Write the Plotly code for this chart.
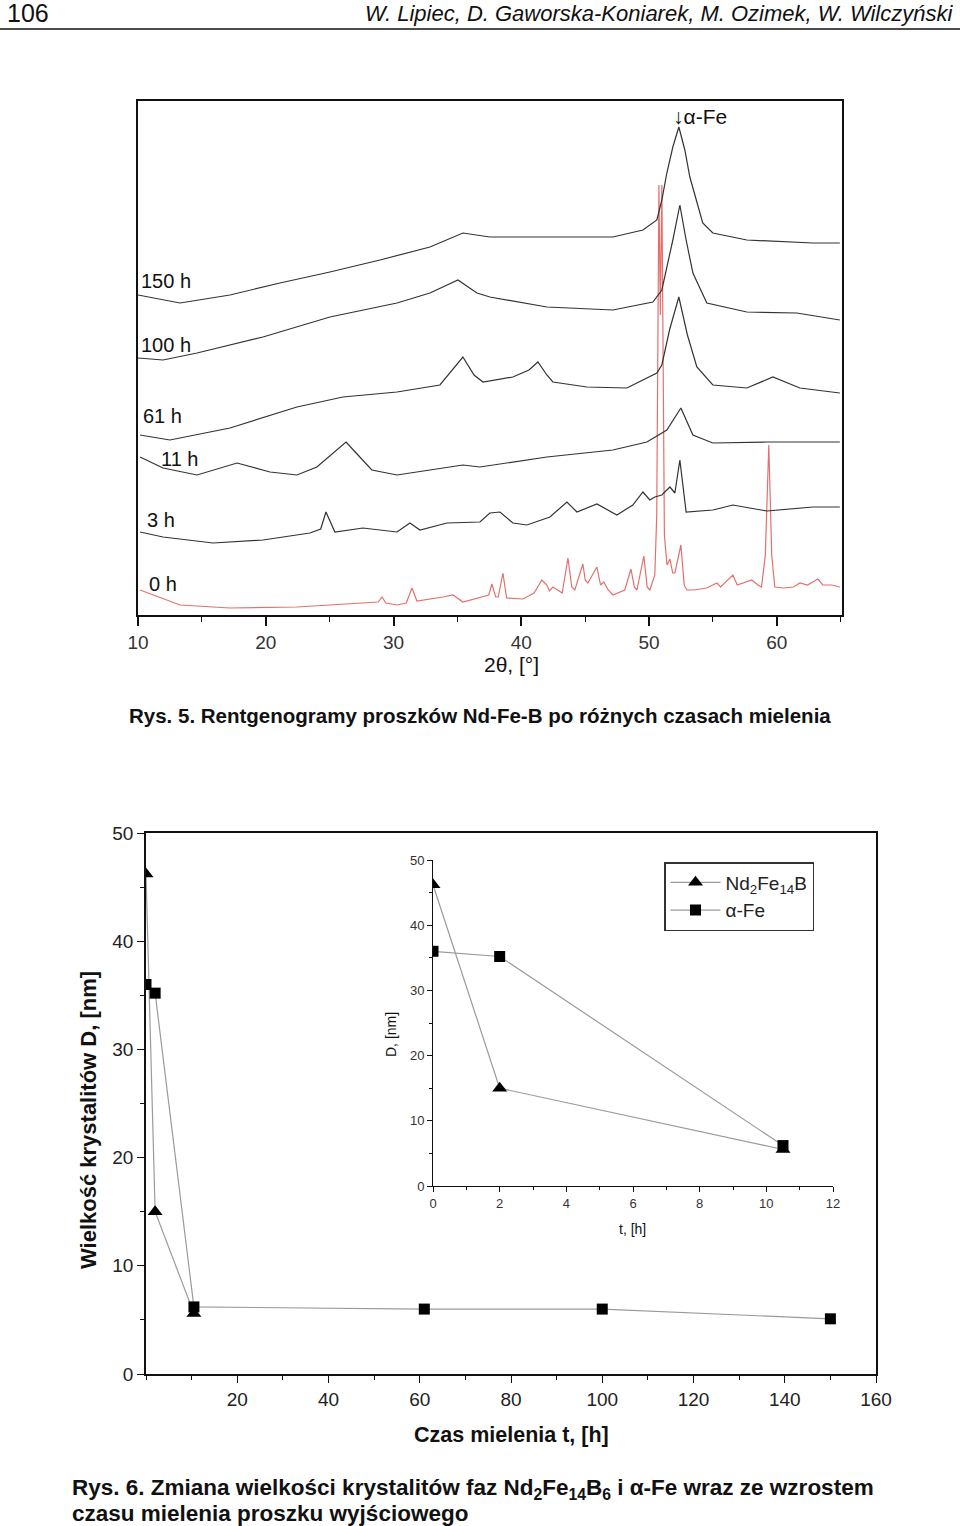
import plotly.graph_objects as go

# ---------------- Rys. 5 : XRD patterns (2theta [deg], intensity [a.u.]) ----------------
tt_0h = [10.16, 13.29, 17.2, 22.44, 25.02, 28.8, 29.1, 29.4, 30.27, 31.0, 31.44, 31.83, 33.87, 34.65,
         35.43, 37.0, 37.45, 37.7, 38.0, 38.2, 38.56, 38.85, 40.13, 41.0, 41.61, 42.0, 42.2, 42.47, 43.2,
         43.65, 43.95, 44.19, 44.82, 45.0, 45.21, 45.92, 46.2, 46.46, 46.8, 47.17, 48.1, 48.58, 48.85,
         49.05, 49.59, 49.85, 50.06, 50.45, 50.6, 50.77, 50.88, 51.0, 51.2, 51.4, 51.63, 51.85, 52.02,
         52.49, 52.75, 52.96, 53.5, 54.5, 55.31, 55.6, 56.56, 56.9, 57.34, 58.04, 58.51, 58.8, 59.1,
         59.37, 59.6, 59.84, 60.5, 61.3, 61.8, 62.4, 63.21, 63.6, 64.3, 64.93]
i_0h = [25, 10, 7, 8, 10, 13, 18, 12, 10, 12, 27, 14, 18, 20,
        13, 18, 20, 31, 18, 18, 42, 17, 16, 22, 35, 30, 24, 28, 22,
        57, 28, 25, 51, 35, 32, 48, 30, 33, 25, 20, 25, 46, 28,
        25, 59, 28, 25, 40, 100, 430, 300, 430, 80, 50, 56, 42, 42,
        70, 30, 25, 25, 27, 32, 28, 40, 30, 32, 35, 30, 28, 60,
        170, 60, 28, 27, 28, 32, 30, 36, 30, 30, 28]

tt_3h = [10.16, 11.96, 15.87, 19.78, 23.46, 24.3, 24.71, 25.41, 27.6, 30.27, 31.28, 32.07, 34.18,
         36.76, 37.54, 38.33, 39.34, 40.44, 42.24, 43.57, 44.35, 45.92, 47.48, 48.73, 49.52, 50.06,
         50.45, 51.0, 51.63, 52.02, 52.41, 52.9, 54.99, 56.56, 59.22, 62.82, 64.93]
i_3h = [83, 78, 72, 75, 82, 86, 103, 83, 87, 83, 92, 85, 92,
        93, 102, 103, 92, 90, 98, 113, 103, 111, 100, 110, 123, 115,
        118, 120, 128, 122, 155, 103, 105, 110, 104, 108, 108]

tt_11h = [10.16, 11.96, 14.62, 17.75, 20.33, 22.44, 24.0, 25.3, 26.28, 27.0, 27.6, 28.3, 30.27,
          32.85, 35.43, 36.76, 42.0, 47.17, 49.83, 51.39, 52.49, 53.43, 54.99, 59.22, 64.93]
i_11h = [158, 147, 140, 152, 143, 140, 148, 162, 173, 163, 155, 145, 140,
         145, 150, 148, 158, 165, 173, 185, 207, 180, 172, 173, 173]

tt_61h = [10.16, 12.5, 17.2, 22.44, 26.04, 30.27, 33.63, 34.6, 35.43, 36.3, 37.0, 39.34, 40.6,
          41.3, 42.0, 42.47, 45.13, 48.26, 50.61, 51.0, 51.6, 52.33, 53.0, 53.74, 54.99, 57.65,
          59.69, 61.8, 64.93]
i_61h = [180, 175, 187, 208, 218, 223, 230, 245, 258, 240, 233, 238, 245,
         253, 240, 233, 228, 227, 242, 250, 285, 318, 280, 248, 230, 227,
         238, 227, 222]

tt_100h = [10.0, 11.96, 14.62, 19.78, 25.02, 30.27, 32.85, 35.04, 36.53, 37.54, 42.0, 47.17,
           50.3, 51.0, 51.86, 52.41, 52.9, 53.43, 54.52, 57.65, 61.56, 64.93]
i_100h = [257, 255, 262, 278, 298, 312, 322, 335, 322, 318, 308, 305,
          313, 325, 375, 410, 375, 342, 312, 303, 302, 295]

tt_150h = [10.0, 13.29, 17.2, 21.11, 25.02, 28.94, 32.85, 35.43, 37.54, 42.0, 47.17, 49.52,
           50.61, 51.0, 51.39, 51.86, 52.33, 52.8, 53.19, 53.74, 54.2, 54.99, 57.65, 62.82, 64.93]
i_150h = [320, 312, 320, 332, 343, 355, 368, 382, 378, 378, 378, 385,
          395, 415, 442, 468, 488, 465, 438, 413, 392, 382, 375, 372, 372]

xrd_names = ["0 h", "3 h", "11 h", "61 h", "100 h", "150 h"]
xrd_ticks = [10, 20, 30, 40, 50, 60]

# ---------------- Rys. 6 : crystallite size D [nm] vs milling time t [h] ----------------
t_nd = [0, 2, 10.5]
d_nd = [46.2, 15.0, 5.6]
t_fe = [0, 2, 10.5, 61, 100, 150]
d_fe = [36.0, 35.2, 6.2, 6.0, 6.0, 5.1]
t_fe_inset = [0, 2, 10.5]
d_fe_inset = [36.0, 35.2, 6.2]
main_xticks = [20, 40, 60, 80, 100, 120, 140, 160]

FONT = "Liberation Sans, Arial, sans-serif"
W, H = 960, 1526


def px(x):
    return x / W


def py(y):
    return 1 - y / H


fig = go.Figure()

xrd = [(tt_0h, i_0h, "#e4706e"), (tt_3h, i_3h, "#333333"), (tt_11h, i_11h, "#333333"),
       (tt_61h, i_61h, "#333333"), (tt_100h, i_100h, "#333333"), (tt_150h, i_150h, "#333333")]
for (xs, ys, col), nm in zip(xrd, xrd_names):
    fig.add_trace(go.Scatter(x=xs, y=ys, mode="lines", name=nm, line=dict(color=col, width=1.2),
                             xaxis="x", yaxis="y", showlegend=False, hoverinfo="skip"))

LINE = "#9a9a9a"
# main plot
fig.add_trace(go.Scatter(x=t_nd, y=d_nd, mode="lines+markers", xaxis="x2", yaxis="y2",
                         line=dict(color=LINE, width=1.2),
                         marker=dict(symbol="triangle-up", size=13, color="black"), showlegend=False))
fig.add_trace(go.Scatter(x=t_fe, y=d_fe, mode="lines+markers", xaxis="x2", yaxis="y2",
                         line=dict(color=LINE, width=1.2),
                         marker=dict(symbol="square", size=11, color="black"), showlegend=False))
# inset
fig.add_trace(go.Scatter(x=t_nd, y=d_nd, mode="lines+markers", xaxis="x3", yaxis="y3",
                         name="Nd<sub>2</sub>Fe<sub>14</sub>B", line=dict(color=LINE, width=1.2),
                         marker=dict(symbol="triangle-up", size=13, color="black")))
fig.add_trace(go.Scatter(x=t_fe_inset, y=d_fe_inset, mode="lines+markers", xaxis="x3", yaxis="y3",
                         name="α-Fe", line=dict(color=LINE, width=1.2),
                         marker=dict(symbol="square", size=11, color="black")))

axcol = "#111111"
fig.update_layout(
    width=W, height=H, margin=dict(l=0, r=0, t=0, b=0, autoexpand=False),
    paper_bgcolor="white", plot_bgcolor="white",
    font=dict(family=FONT, color="#222"),
    xaxis=dict(domain=[px(138), px(842)], range=[10, 65.1], anchor="y", automargin=False,
               showline=True, linecolor=axcol, linewidth=2, mirror=True,
               ticks="outside", ticklen=9, tickwidth=1.5, tickcolor=axcol,
               tickmode="array", tickvals=xrd_ticks,
               minor=dict(tickmode="linear", tick0=10, dtick=5, ticks="outside", ticklen=5,
                          tickwidth=1.2, tickcolor=axcol),
               tickfont=dict(size=19, family=FONT, color="#333"),
               showgrid=False, zeroline=False),
    yaxis=dict(domain=[py(615), py(101)], range=[0, 514], anchor="x", automargin=False,
               showline=True, linecolor=axcol, linewidth=2, mirror=True,
               showticklabels=False, ticks="", showgrid=False, zeroline=False),
    xaxis2=dict(domain=[px(146), px(876)], range=[0, 160], anchor="y2", automargin=False,
                showline=True, linecolor=axcol, linewidth=1.6, mirror=True,
                ticks="outside", ticklen=7, tickwidth=1.2, tickcolor=axcol,
                tickmode="array", tickvals=main_xticks,
                minor=dict(tickmode="linear", tick0=0, dtick=10, ticks="outside", ticklen=4,
                           tickwidth=1, tickcolor=axcol),
                tickfont=dict(size=19, family=FONT, color="#222"),
                showgrid=False, zeroline=False),
    yaxis2=dict(domain=[py(1374), py(833)], range=[0, 50], anchor="x2", automargin=False,
                showline=True, linecolor=axcol, linewidth=1.6, mirror=True,
                ticks="outside", ticklen=7, tickwidth=1.2, tickcolor=axcol, dtick=10,
                minor=dict(dtick=5, ticks="outside", ticklen=4, tickwidth=1, tickcolor=axcol),
                tickfont=dict(size=19, family=FONT, color="#222"),
                showgrid=False, zeroline=False),
    xaxis3=dict(domain=[px(433), px(833)], range=[0, 12], anchor="y3", automargin=False,
                showline=True, linecolor=axcol, linewidth=1, mirror=False,
                ticks="outside", ticklen=5, tickwidth=1, tickcolor=axcol, dtick=2,
                minor=dict(dtick=1, ticks="outside", ticklen=3, tickwidth=1, tickcolor=axcol),
                tickfont=dict(size=13, family=FONT, color="#333"),
                showgrid=False, zeroline=False),
    yaxis3=dict(domain=[py(1186), py(860)], range=[0, 50], anchor="x3", automargin=False,
                showline=True, linecolor=axcol, linewidth=1, mirror=False,
                ticks="outside", ticklen=5, tickwidth=1, tickcolor=axcol, dtick=10,
                minor=dict(dtick=5, ticks="outside", ticklen=3, tickwidth=1, tickcolor=axcol),
                tickfont=dict(size=13, family=FONT, color="#333"),
                showgrid=False, zeroline=False),
    legend=dict(x=px(664), y=py(862), xanchor="left", yanchor="top", itemwidth=50,
                bordercolor="#333", borderwidth=1.5, bgcolor="white",
                font=dict(size=19, family=FONT, color="#222"), tracegroupgap=0),
)

ann = []


def add(text, x, y, size, xanchor="left", bold=False, italic=False, angle=0, color="#111"):
    t = text
    if bold:
        t = "<b>" + t + "</b>"
    if italic:
        t = "<i>" + t + "</i>"
    ann.append(dict(text=t, x=px(x), y=py(y), xref="paper", yref="paper", showarrow=False,
                    xanchor=xanchor, yanchor="middle", textangle=angle,
                    font=dict(size=size, family=FONT, color=color)))


# page header
add("106", 5, 13, 25)
add("W. Lipiec, D. Gaworska-Koniarek, M. Ozimek, W. Wilczyński", 955, 13, 22, xanchor="right", italic=True)

# XRD labels
add("150 h", 139, 281, 20)
add("100 h", 139, 345, 20)
add("61 h", 141, 416, 20)
add("11 h", 159, 459, 20)
add("3 h", 145, 520, 20)
add("0 h", 147, 584, 20)
add("↓α-Fe", 671, 117, 21)
add("2θ, [°]", 511, 665, 21, xanchor="center")
add("Rys. 5. Rentgenogramy proszków Nd-Fe-B po różnych czasach mielenia", 480, 715, 20.5,
    xanchor="center", bold=True)

# Rys. 6 labels
add("Wielkość krystalitów D, [nm]", 88, 1120, 22, xanchor="center", bold=True, angle=-90)
add("Czas mielenia t, [h]", 511, 1435, 21.5, xanchor="center", bold=True)
add("D, [nm]", 391, 1035, 14, xanchor="center", angle=-90)
add("t, [h]", 632, 1229, 14, xanchor="center")
add("Rys. 6. Zmiana wielkości krystalitów faz Nd<sub>2</sub>Fe<sub>14</sub>B<sub>6</sub> i α-Fe wraz ze wzrostem",
    70, 1489, 22.5, bold=True)
add("czasu mielenia proszku wyjściowego", 70, 1513, 22.5, bold=True)

fig.update_layout(annotations=ann,
                  shapes=[dict(type="line", xref="paper", yref="paper", x0=0, x1=1,
                               y0=py(29), y1=py(29), line=dict(color="#111", width=1.5))])

fig.write_html("out.html", config={"displayModeBar": False},
               post_script="document.body.style.margin='0';document.body.style.padding='0';"
                           "document.body.style.overflow='hidden';")
